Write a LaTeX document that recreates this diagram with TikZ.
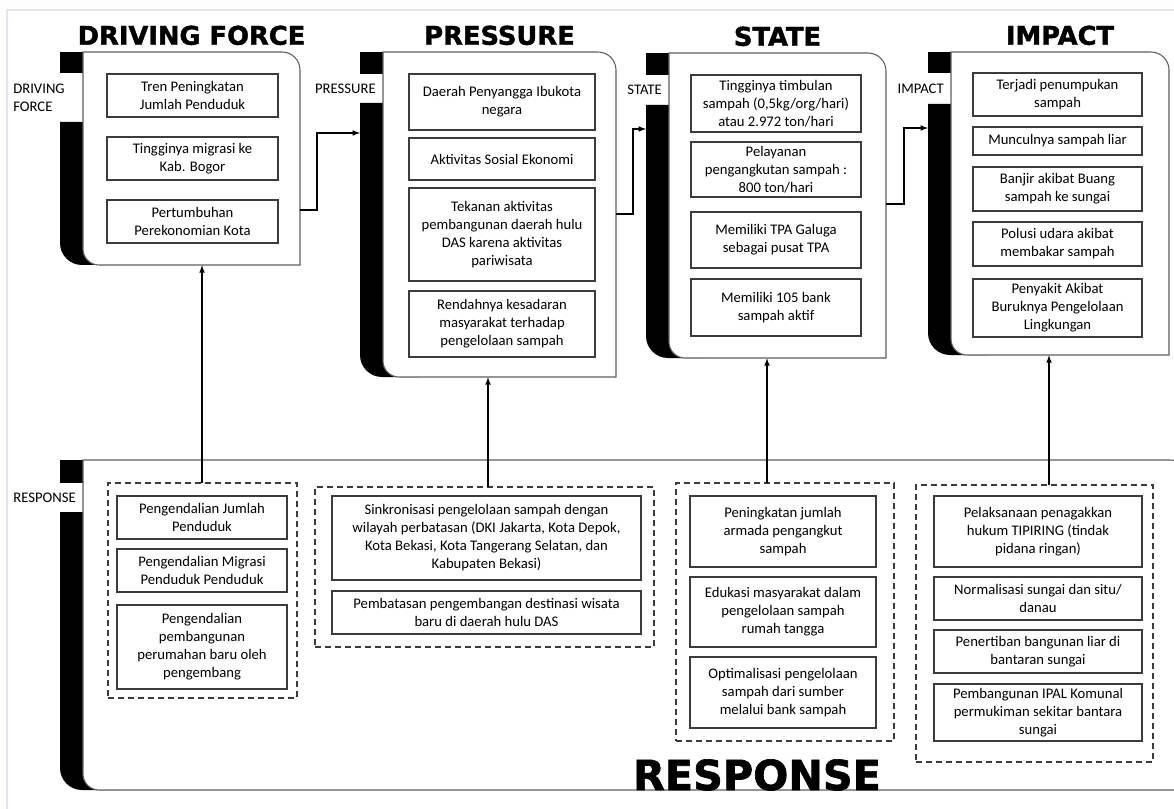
\documentclass[tikz,border=0pt]{standalone}
\usepackage{fontspec}
\setmainfont{Carlito}
\newfontfamily\headfont{DejaVu Sans}[BoldFeatures={FakeBold=1.6}]
\usetikzlibrary{positioning,fit}
\definecolor{mframe}{RGB}{224,230,242}
\definecolor{mline}{RGB}{60,60,60}
\definecolor{mgray}{RGB}{95,95,95}
\tikzset{
  blockline/.style={draw=mgray,line width=0.8pt},
  itembox/.style={draw=mline,line width=0.9pt,fill=white,align=center,
    inner sep=0pt,font=\fontsize{11}{13.5}\selectfont},
  groupbox/.style={draw=mline,line width=0.9pt,dash pattern=on 4.5pt off 3pt,
    inner sep=0pt},
  sidelabel/.style={inner sep=0pt,align=right,font=\fontsize{11}{13.5}\selectfont},
  headtitle/.style={inner sep=0pt,font=\headfont\bfseries\fontsize{19.3}{21}\selectfont},
  conn/.style={-latex,line width=0.9pt}
}
\newcommand{\DpsirBlock}[9][]{
  \fill (#3,-#4) rectangle (#3+23,-#7);
  \fill (#3,-#8) -- (#3,-#6+22) arc[start angle=180,end angle=270,radius=16.5pt]
    -- (#3+60,-#6) -- (#3+60,-#8) -- cycle;
  \draw[blockline,fill=white] (#3+23,-#4) -- (#5-18,-#4)
    arc[start angle=90,end angle=0,radius=13.5pt] -- (#5,-#6)
    -- (#3+39,-#6) arc[start angle=270,end angle=180,radius=12pt] -- cycle;
  \node[fit={(#3+23,-#4) (#5,-#6)},inner sep=0pt] (box-#2) {};
  \node[sidelabel,anchor=east,#1] (label-#2) at (#3+16,{-(#7+#8)/2}) {#9};
}
\newcommand{\Item}[6]{
  \node[itembox,minimum width={(#4-#2)*0.75pt},minimum height={(#5-#3)*0.75pt}]
    (#1) at ({(#2+#4)/2},{-(#3+#5)/2}) {#6};
}
\begin{document}
\begin{tikzpicture}[x=0.75pt,y=0.75pt]
  \useasboundingbox (0,0) rectangle (1174,-809);
  \clip (0,0) rectangle (1174,-809);
  \draw[mframe,line width=1pt] (7,-809) -- (7,-10) -- (1174,-10);

  \DpsirBlock{resp}{60}{460}{1188}{790}{483}{512}{RESPONSE}
  \DpsirBlock[align=left,xshift=-8.25pt]{df}{60}{52}{300}{265}{73}{122}{DRIVING\\FORCE}
  \DpsirBlock{pr}{360}{52}{616}{377}{74}{103}{PRESSURE}
  \DpsirBlock{st}{646}{53}{886}{358}{75}{105}{STATE}
  \DpsirBlock{im}{928}{52}{1169}{355}{73}{104}{IMPACT}

  \node[headtitle,above=5.25pt of box-df.north,anchor=base] (title-df) {DRIVING FORCE};
  \node[headtitle,above=5.25pt of box-pr.north,anchor=base] (title-pr) {PRESSURE};
  \node[headtitle,above=5.25pt of box-st.north,anchor=base] (title-st) {STATE};
  \node[headtitle,above=5.25pt of box-im.north,anchor=base] (title-im) {IMPACT};
  \node[headtitle,font=\headfont\bfseries\fontsize{31}{33}\selectfont,anchor=base]
    (title-resp) at (757,-790) {RESPONSE};

  % driving force
  \Item{df1}{107}{74}{278}{117}{Tren Peningkatan\\Jumlah Penduduk}
  \Item{df2}{107}{137}{278}{180}{Tingginya migrasi ke\\Kab. Bogor}
  \Item{df3}{107}{200}{278}{243}{Pertumbuhan\\Perekonomian Kota}
  % pressure
  \Item{pr1}{409}{74}{595}{130}{Daerah Penyangga Ibukota\\negara}
  \Item{pr2}{409}{138}{595}{180}{Aktivitas Sosial Ekonomi}
  \Item{pr3}{409}{188}{595}{281}{Tekanan aktivitas\\pembangunan daerah hulu\\DAS karena aktivitas\\pariwisata}
  \Item{pr4}{409}{291}{595}{357}{Rendahnya kesadaran\\masyarakat terhadap\\pengelolaan sampah}
  % state
  \Item{st1}{691}{75}{861}{132}{Tingginya timbulan\\sampah (0,5kg/org/hari)\\atau 2.972 ton/hari}
  \Item{st2}{691}{142}{861}{197}{Pelayanan\\pengangkutan sampah :\\800 ton/hari}
  \Item{st3}{691}{212}{861}{268}{Memiliki TPA Galuga\\sebagai pusat TPA}
  \Item{st4}{691}{279}{861}{336}{Memiliki 105 bank\\sampah aktif}
  % impact
  \Item{im1}{973}{73}{1142}{116}{Terjadi penumpukan\\sampah}
  \Item{im2}{973}{127}{1142}{155}{Munculnya sampah liar}
  \Item{im3}{973}{167}{1142}{211}{Banjir akibat Buang\\sampah ke sungai}
  \Item{im4}{973}{222}{1142}{266}{Polusi udara akibat\\membakar sampah}
  \Item{im5}{973}{279}{1142}{337}{Penyakit Akibat\\Buruknya Pengelolaan\\Lingkungan}

  % response groups
  \node[groupbox,fit={(108,-483) (297,-698)}] (grp-df) {};
  \node[groupbox,fit={(315,-487) (654,-647)}] (grp-pr) {};
  \node[groupbox,fit={(676,-483) (894,-741)}] (grp-st) {};
  \node[groupbox,fit={(916,-485) (1153,-762)}] (grp-im) {};
  \Item{rdf1}{117}{496}{287}{539}{Pengendalian Jumlah\\Penduduk}
  \Item{rdf2}{117}{549}{287}{592}{Pengendalian Migrasi\\Penduduk Penduduk}
  \Item{rdf3}{117}{605}{287}{689}{Pengendalian\\pembangunan\\perumahan baru oleh\\pengembang}
  \Item{rpr1}{332}{496}{641}{580}{Sinkronisasi pengelolaan sampah dengan\\wilayah perbatasan (DKI Jakarta, Kota Depok,\\Kota Bekasi, Kota Tangerang Selatan, dan\\Kabupaten Bekasi)}
  \Item{rpr2}{332}{591}{641}{634}{Pembatasan pengembangan destinasi wisata\\baru di daerah hulu DAS}
  \Item{rst1}{690}{496}{876}{567}{Peningkatan jumlah\\armada pengangkut\\sampah}
  \Item{rst2}{690}{577}{876}{647}{Edukasi masyarakat dalam\\pengelolaan sampah\\rumah tangga}
  \Item{rst3}{690}{657}{876}{728}{Optimalisasi pengelolaan\\sampah dari sumber\\melalui bank sampah}
  \Item{rim1}{934}{496}{1142}{567}{Pelaksanaan penagakkan\\hukum TIPIRING (tindak\\pidana ringan)}
  \Item{rim2}{934}{577}{1142}{620}{Normalisasi sungai dan situ/\\danau}
  \Item{rim3}{934}{630}{1142}{673}{Penertiban bangunan liar di\\bantaran sungai}
  \Item{rim4}{934}{684}{1142}{741}{Pembangunan IPAL Komunal\\permukiman sekitar bantara\\sungai}

  % flow between the blocks
  \coordinate (df-out) at (300,-210);
  \coordinate (pr-in) at (360,-133);
  \coordinate (pr-out) at (616,-214);
  \coordinate (st-in) at (646,-129);
  \coordinate (st-out) at (886,-204);
  \coordinate (im-in) at (928,-128);
  \draw[conn] (df-out) -- ++(17,0) |- (pr-in);
  \draw[conn] (pr-out) -- ++(17,0) |- (st-in);
  \draw[conn] (st-out) -- ++(18,0) |- (im-in);

  % response feeds back up
  \coordinate (df-up) at (202,-483);
  \coordinate (pr-up) at (488,-487);
  \coordinate (st-up) at (767,-483);
  \coordinate (im-up) at (1049,-485);
  \draw[conn] (df-up) -- (df-up |- box-df.south);
  \draw[conn] (pr-up) -- (pr-up |- box-pr.south);
  \draw[conn] (st-up) -- (st-up |- box-st.south);
  \draw[conn] (im-up) -- (im-up |- box-im.south);
\end{tikzpicture}
\end{document}
